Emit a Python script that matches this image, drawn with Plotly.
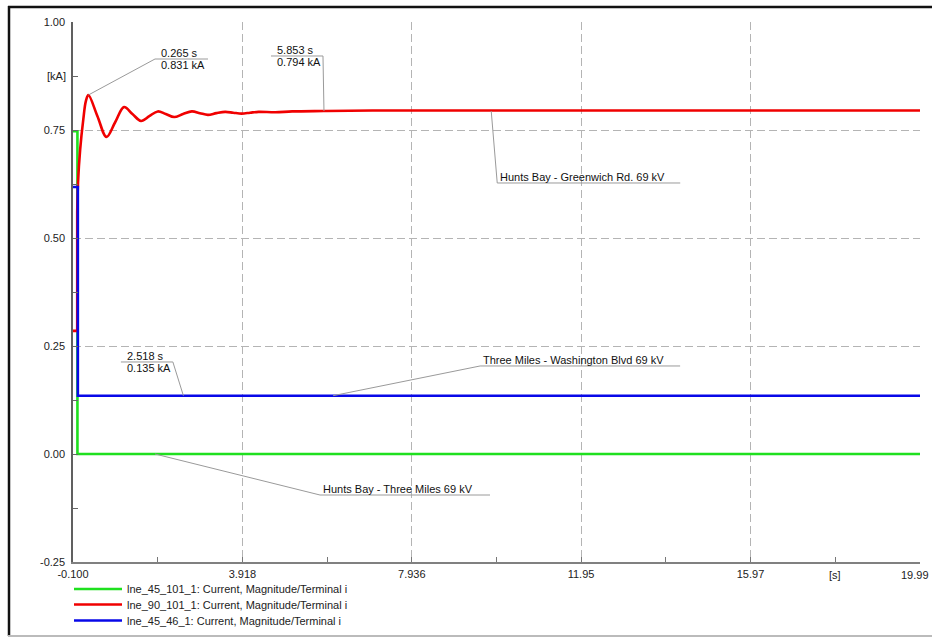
import plotly.graph_objects as go

# ---- simulation results (time in s, current magnitude in kA) ----
green_name = "lne_45_101_1: Current, Magnitude/Terminal i"
green_t = [-0.100, 0.005, 0.005, 19.99]
green_v = [0.747, 0.747, 0.000, 0.000]

red_name = "lne_90_101_1: Current, Magnitude/Terminal i"
# pre-fault level and the step at fault inception
red_step_t = [-0.100, 0.000, 0.000]
red_step_v = [0.285, 0.285, 0.560]
# post-fault swing, settling towards the new steady state
red_t = [0.000, 0.020, 0.070, 0.145, 0.205, 0.265, 0.480, 0.695, 0.900, 1.110,
         1.310, 1.513, 1.710, 1.910, 2.100, 2.300, 2.510, 2.720, 2.910, 3.100,
         3.300, 3.510, 3.700, 3.900, 4.100, 4.300, 4.700, 5.100, 5.853, 7.000,
         10.00, 13.00, 16.00, 19.99]
red_v = [0.560, 0.630, 0.705, 0.775, 0.817, 0.831, 0.782, 0.734, 0.768, 0.803,
         0.787, 0.771, 0.782, 0.793, 0.787, 0.780, 0.787, 0.793, 0.789, 0.785,
         0.789, 0.792, 0.790, 0.788, 0.790, 0.792, 0.791, 0.793, 0.794, 0.795,
         0.795, 0.795, 0.795, 0.795]

blue_name = "lne_45_46_1: Current, Magnitude/Terminal i"
blue_t = [-0.100, 0.015, 0.015, 19.99]
blue_v = [0.618, 0.618, 0.135, 0.135]

# axis ticks (the last x label is placed separately so it stays on the page)
x_major = [-0.100, 3.918, 7.936, 11.95, 15.97, 19.99]
x_major_text = ["-0.100", "3.918", "7.936", "11.95", "15.97", ""]
x_end_at, x_end_text = 19.99, "19.99"
x_minor = [1.909, 5.927, 9.945, 13.96, 17.98]
x_unit_at, x_unit = 17.98, "[s]"
y_major = [-0.25, 0.00, 0.25, 0.50, 0.75, 1.00]
y_major_text = ["-0.25", "0.00", "0.25", "0.50", "0.75", "1.00"]
y_minor = [-0.125, 0.125, 0.375, 0.625, 0.875]
y_unit_at, y_unit = 0.875, "[kA]"

# value markers: (time, value, leader offset dx/dy px, underline from/to px, text)
value_marks = [
    (0.265, 0.831, 66.6, 36.0, 66.6, 119.6, ["0.265 s", "0.831 kA"]),
    (5.853, 0.794, -1.0, 55.0, -53.0, -1.0, ["5.853 s", "0.794 kA"]),
    (2.518, 0.135, -10.5, 33.7, -62.5, -10.5, ["2.518 s", "0.135 kA"]),
]
# line name labels: (time, value, leader offset dx/dy px, underline length px, text)
name_labels = [
    (1.845, 0.000, 165.0, -41.0, 170.0, "Hunts Bay - Three Miles 69 kV"),
    (6.070, 0.135, 147.0, 29.7, 200.0, "Three Miles - Washington Blvd 69 kV"),
    (9.820, 0.794, 6.0, -72.0, 183.0, "Hunts Bay - Greenwich Rd. 69 kV"),
]

FONT = "Liberation Sans, Arial, sans-serif"
GREEN, RED, BLUE = "#1fe01f", "#f00000", "#0808e8"
LEADER = "#9a9a9a"
W, H = 932, 637
ML, MR, MT, MB = 73, 12, 22, 75
PW, PH = W - ML - MR, H - MT - MB


def px_paper_x(p):
    return (p - ML) / PW


def px_paper_y(p):
    return (H - MB - p) / PH


fig = go.Figure()
fig.add_trace(go.Scatter(x=green_t, y=green_v, mode="lines", name=green_name,
                         legend="legend",
                         line=dict(color=GREEN, width=2.6)))
fig.add_trace(go.Scatter(x=red_step_t, y=red_step_v, mode="lines", name=red_name,
                         legend="legend2", showlegend=False,
                         line=dict(color=RED, width=2.6)))
fig.add_trace(go.Scatter(x=red_t, y=red_v, mode="lines", name=red_name,
                         legend="legend2",
                         line=dict(color=RED, width=2.6, shape="spline", smoothing=1.0)))
fig.add_trace(go.Scatter(x=blue_t, y=blue_v, mode="lines", name=blue_name,
                         legend="legend3",
                         line=dict(color=BLUE, width=2.6)))

shapes = []
annotations = []


def px_line(t, v, x0, y0, x1, y1):
    return dict(type="line", xref="x", yref="y", xsizemode="pixel", ysizemode="pixel",
                xanchor=t, yanchor=v, x0=x0, y0=y0, x1=x1, y1=y1,
                line=dict(color=LEADER, width=1))


def px_text(t, v, dx, dy, text):
    return dict(x=t, y=v, xref="x", yref="y", xshift=dx, yshift=dy, text=text,
                showarrow=False, xanchor="left", yanchor="middle",
                font=dict(family=FONT, size=11, color="#111111"))


for t, v, dx, dy, u0, u1, lines in value_marks:
    shapes.append(px_line(t, v, 0, 0, dx, dy))
    shapes.append(px_line(t, v, u0, dy, u1, dy))
    annotations.append(px_text(t, v, u0 + 4, dy + 6, lines[0]))
    annotations.append(px_text(t, v, u0 + 4, dy - 6, lines[1]))

for t, v, dx, dy, length, text in name_labels:
    shapes.append(px_line(t, v, 0, 0, dx, dy))
    shapes.append(px_line(t, v, dx, dy, dx + length, dy))
    annotations.append(px_text(t, v, dx + 1, dy + 6, text))

axis_font = dict(family=FONT, size=11, color="#222222")

# unit labels on the axes and the end-of-range time label
annotations.append(dict(x=0, y=y_unit_at, xref="paper", yref="y", xanchor="right",
                        yanchor="middle", xshift=-5, text=y_unit, showarrow=False,
                        font=axis_font))
annotations.append(dict(x=x_unit_at, y=0, xref="x", yref="paper", xanchor="center",
                        yanchor="top", yshift=-5, text=x_unit, showarrow=False,
                        font=axis_font))
annotations.append(dict(x=x_end_at, y=0, xref="x", yref="paper", xanchor="right",
                        yanchor="top", xshift=11, yshift=-5, text=x_end_text,
                        showarrow=False, font=axis_font))

# outer frame of the diagram page
shapes += [
    dict(type="line", xref="paper", yref="paper", x0=px_paper_x(8), x1=px_paper_x(940),
         y0=px_paper_y(7), y1=px_paper_y(7), line=dict(color="#111111", width=2.5)),
    dict(type="line", xref="paper", yref="paper", x0=px_paper_x(9), x1=px_paper_x(9),
         y0=px_paper_y(6), y1=px_paper_y(636), line=dict(color="#111111", width=2.5)),
    dict(type="line", xref="paper", yref="paper", x0=px_paper_x(8), x1=px_paper_x(940),
         y0=px_paper_y(636), y1=px_paper_y(636), line=dict(color="#bbbbbb", width=2)),
]

legend_font = dict(family=FONT, size=11, color="#222222")


def legend_box(row_y):
    return dict(x=px_paper_x(69), y=px_paper_y(row_y), xanchor="left", yanchor="middle",
                bgcolor="rgba(0,0,0,0)", font=legend_font, itemwidth=48,
                borderwidth=0)


fig.update_layout(
    width=W, height=H,
    margin=dict(l=ML, r=MR, t=MT, b=MB, pad=0, autoexpand=False),
    paper_bgcolor="white", plot_bgcolor="white",
    font=dict(family=FONT, size=11, color="#222222"),
    shapes=shapes, annotations=annotations,
    showlegend=True,
    legend=legend_box(589),
    legend2=legend_box(604.5),
    legend3=legend_box(620.5),
    xaxis=dict(range=[-0.100, 19.99], tickmode="array", tickvals=x_major,
               ticktext=x_major_text, ticks="inside", ticklen=5, tickcolor="#777777",
               showline=True, linecolor="#808080", linewidth=2, zeroline=False,
               showgrid=True, gridcolor="#b4b4b4", gridwidth=1, griddash="8px,4px",
               tickfont=axis_font, ticklabelstandoff=1,
               minor=dict(tickvals=x_minor, ticks="inside", ticklen=5,
                          tickcolor="#777777", showgrid=False)),
    yaxis=dict(range=[-0.25, 1.00], tickmode="array", tickvals=y_major,
               ticktext=y_major_text, ticks="inside", ticklen=5, tickcolor="#666666",
               showline=True, linecolor="#606060", linewidth=1.5, zeroline=False,
               showgrid=True, gridcolor="#b4b4b4", gridwidth=1, griddash="8px,4px",
               tickfont=axis_font, ticklabelstandoff=4,
               minor=dict(tickvals=y_minor, ticks="inside", ticklen=5,
                          tickcolor="#666666", showgrid=False)),
)

fig.write_html("out.html")
